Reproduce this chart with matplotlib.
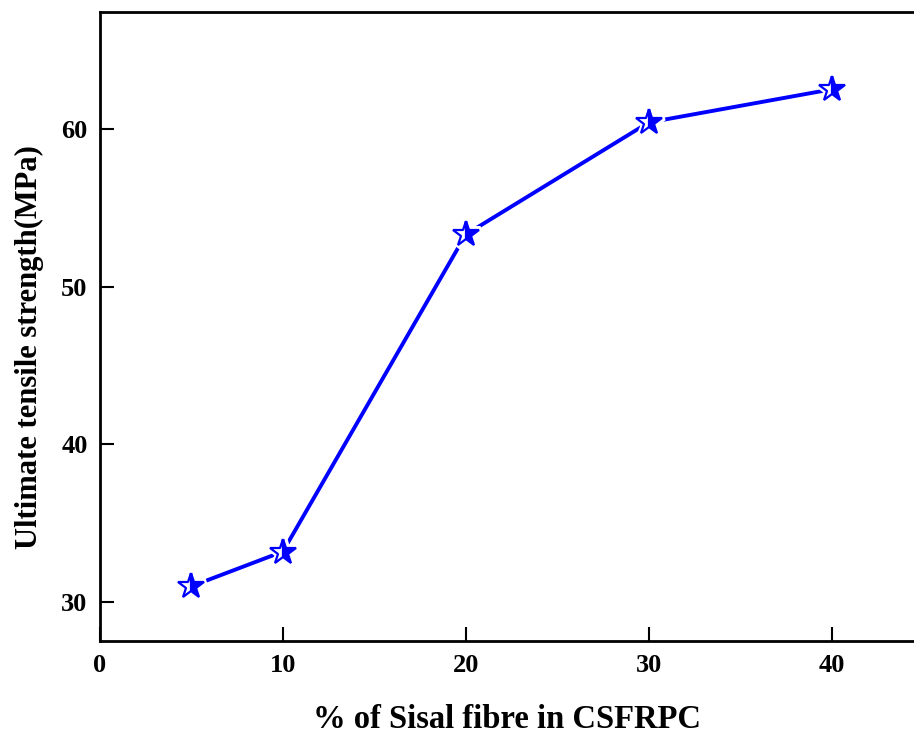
import matplotlib
matplotlib.use("Agg")
import matplotlib.pyplot as plt

fibre_pct = [5, 10, 20, 30, 40]
strength = [31.0, 33.2, 53.3, 60.4, 62.5]
x_ticks = [0, 10, 20, 30, 40]
y_ticks = [30, 40, 50, 60]

plt.rcParams['font.family'] = ['Liberation Serif', 'DejaVu Serif']
plt.rcParams['font.weight'] = 'bold'

fig = plt.figure(figsize=(9.14, 7.39), dpi=100)
ax = fig.add_axes([100/914, (739-641)/739, 814/914, (641-12)/739])

ax.plot(fibre_pct, strength, color='#0000ff', lw=2.8, zorder=2)
ax.plot(fibre_pct, strength, ls='none', marker='*', ms=21, mfc='white', mec='white', mew=5, zorder=3)
ax.plot(fibre_pct, strength, ls='none', marker='*', ms=19, color='#0000ff',
        fillstyle='right', markerfacecoloralt='white', mec='#0000ff', mew=1.6, zorder=4)

ax.set_xlim(0, 44.5)
ax.set_ylim(27.53, 67.4)
ax.set_xticks(x_ticks)
ax.set_yticks(y_ticks)
ax.tick_params(direction='in', length=10, width=1.5, labelsize=19, pad=9)
ax.spines['right'].set_visible(False)
for s in ['left', 'bottom', 'top']:
    ax.spines[s].set_linewidth(2)

ax.set_xlabel('% of Sisal fibre in CSFRPC', fontsize=23.5, fontweight='bold', labelpad=20)
ax.set_ylabel('Ultimate tensile strength(MPa)', fontsize=22, fontweight='bold')
ax.yaxis.set_label_coords(-56/814, 0.467)

fig.savefig('out.png', dpi=100)
